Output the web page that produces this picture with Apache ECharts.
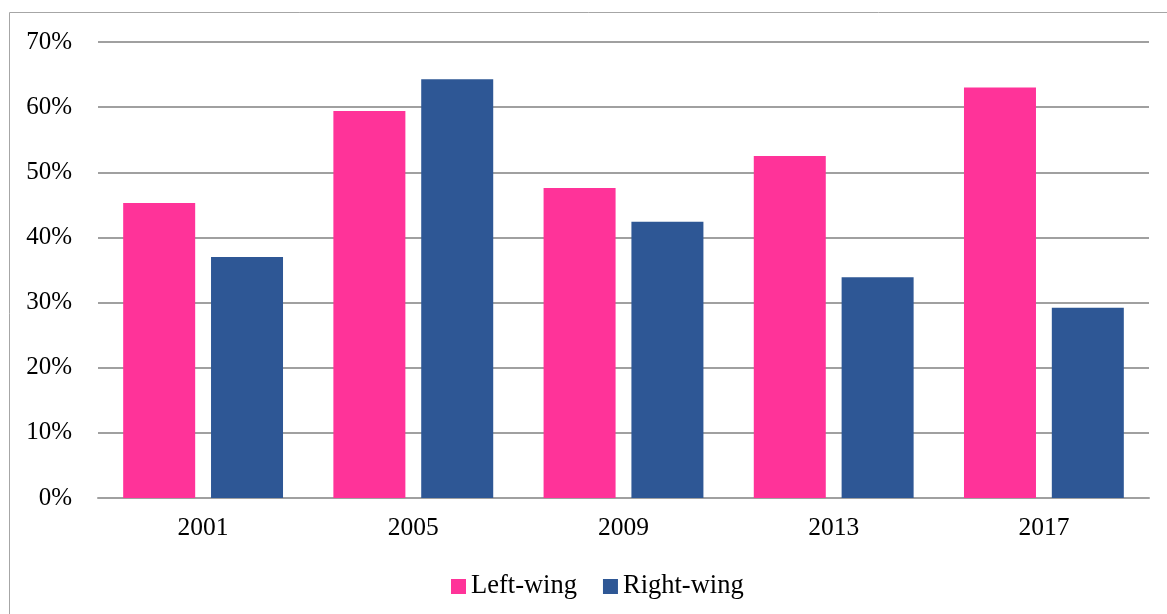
<!DOCTYPE html>
<html>
<head>
<meta charset="utf-8">
<script src="https://cdn.jsdelivr.net/npm/echarts@6/dist/echarts.min.js"></script>
<style>
  html, body { margin: 0; padding: 0; background: #fff; }
  #chart { width: 1167px; height: 614px; }
</style>
</head>
<body>
<div id="chart"></div>
<script>
// Election years and share of vote (%) by bloc
const years = ['2001', '2005', '2009', '2013', '2017'];
const leftWing = [45.3, 59.4, 47.6, 52.5, 63.0];
const rightWing = [37.0, 64.3, 42.4, 33.9, 29.2];
const seriesNames = ['Left-wing', 'Right-wing'];
const yTicks = { min: 0, max: 70, interval: 10 };

const font = '"Liberation Serif", "Times New Roman", serif';
const chart = echarts.init(document.getElementById('chart'), null, { renderer: 'canvas' });

chart.setOption({
  animation: false,
  backgroundColor: '#ffffff',
  graphic: [{
    type: 'rect',
    shape: { x: 9.5, y: 12.5, width: 1300, height: 800 },
    style: { fill: 'none', stroke: '#a6a6a6', lineWidth: 1 },
    silent: true,
    z: -1
  }],
  grid: { left: 98, right: 18, top: 42, bottom: 116 },
  legend: {
    data: seriesNames,
    top: 568,
    left: 446,
    itemWidth: 15,
    itemHeight: 15,
    itemGap: 26,
    icon: 'rect',
    textStyle: { fontFamily: font, fontSize: 26.5, color: '#000', padding: [0, 0, 0, 0] }
  },
  xAxis: {
    type: 'category',
    data: years,
    axisLine: { show: true, lineStyle: { color: '#a0a0a0', width: 2 } },
    axisTick: { show: false },
    axisLabel: { fontFamily: font, fontSize: 25.5, color: '#000', margin: 17 }
  },
  yAxis: {
    type: 'value',
    min: yTicks.min,
    max: yTicks.max,
    interval: yTicks.interval,
    axisLine: { show: false },
    axisTick: { show: false },
    axisLabel: { fontFamily: font, fontSize: 25, color: '#000', margin: 26, formatter: v => v + '%' },
    splitLine: { lineStyle: { color: '#a0a0a0', width: 2 } }
  },
  series: [
    {
      name: seriesNames[0],
      type: 'bar',
      data: leftWing,
      barWidth: 72,
      barGap: '22%',
      itemStyle: { color: '#ff3399' }
    },
    {
      name: seriesNames[1],
      type: 'bar',
      data: rightWing,
      barWidth: 72,
      barGap: '22%',
      itemStyle: { color: '#2e5795' }
    }
  ]
});
</script>
</body>
</html>
